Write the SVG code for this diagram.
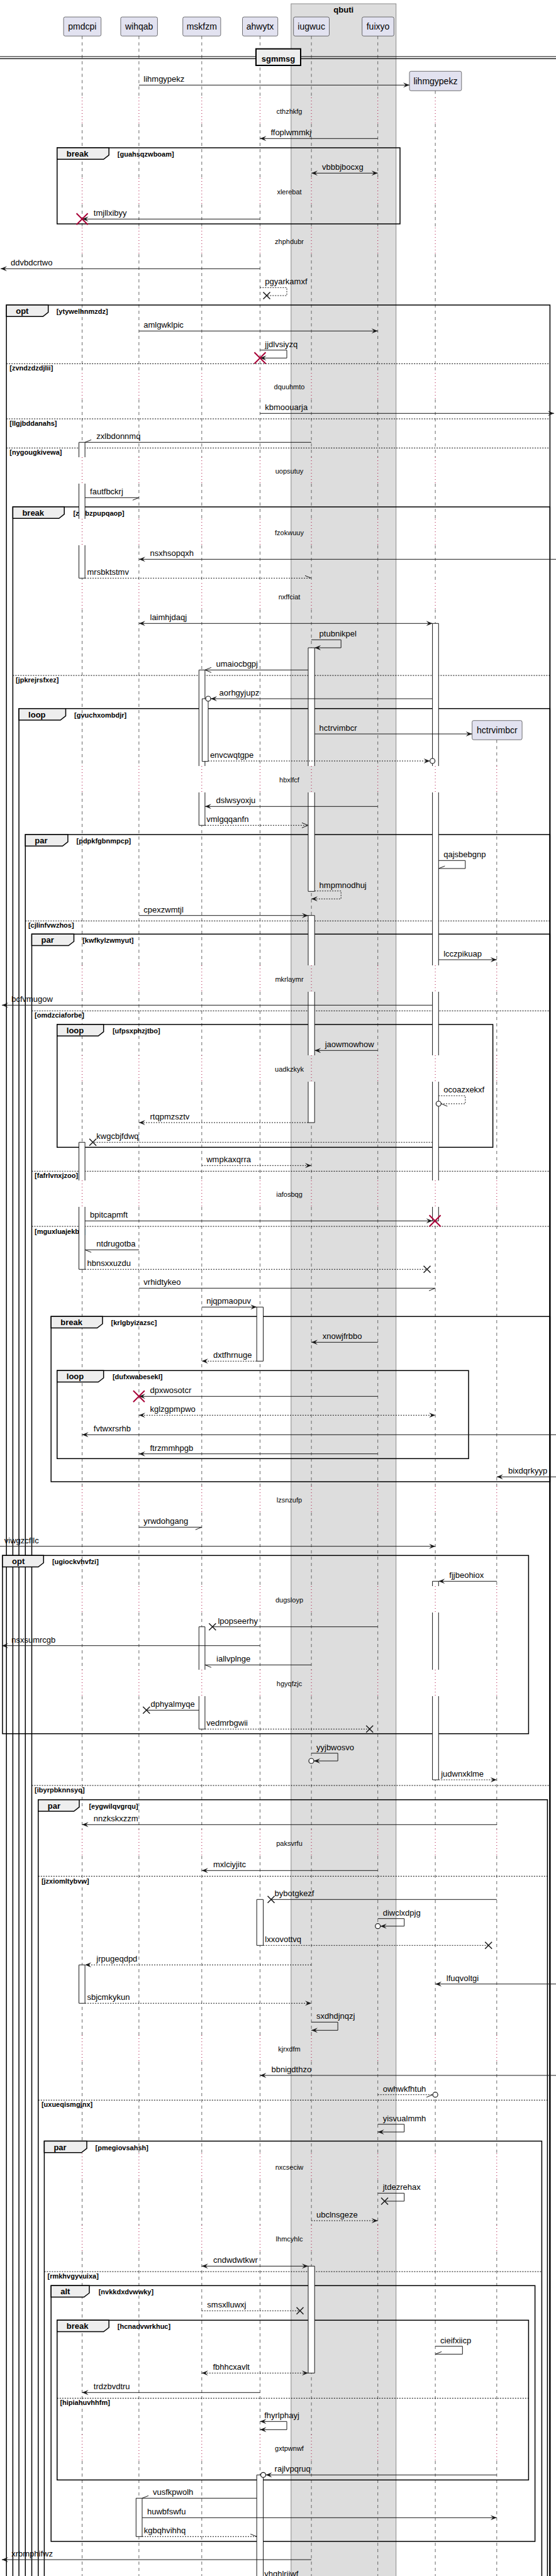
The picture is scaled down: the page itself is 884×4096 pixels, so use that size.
<svg xmlns="http://www.w3.org/2000/svg" width="884" height="4096" viewBox="0 0 884 4096">
<style>
text{font-family:"Liberation Sans",Arial,sans-serif;fill:#000}
.pt{font-size:14px;text-anchor:middle}
.m{font-size:13px}
.d{font-size:11px;text-anchor:middle}
.tb{font-size:13px;font-weight:bold}
.c{font-size:11px;font-weight:bold}
.ll{stroke:#666;stroke-width:1;stroke-dasharray:5,5;fill:none}
.lt{stroke:#A80036;stroke-width:1;stroke-dasharray:1,4;fill:none}
.fr{fill:none;stroke:#000;stroke-width:1.5}
.tab{fill:#EEEEEE;stroke:#000;stroke-width:1.5}
.sep{stroke:#000;stroke-width:1;stroke-dasharray:2,2;fill:none}
.msg{stroke:#181818;stroke-width:1;fill:none}
.dt{stroke-dasharray:2,2}
.ab{fill:#fff;stroke:none}
.al{fill:none;stroke:#181818;stroke-width:1}
.xr{stroke:#A80036;stroke-width:2;fill:none}
.xb{stroke:#181818;stroke-width:1.5;fill:none}
.ci{fill:#fff;stroke:#181818;stroke-width:1.2}
.pb{fill:#E2E2F0;stroke:#181818;stroke-width:0.6}
</style>
<defs>
<marker id="af" viewBox="-1 -1 12 10" refX="10" refY="4" markerWidth="12" markerHeight="10" markerUnits="userSpaceOnUse" orient="auto-start-reverse"><path d="M0,0 L10,4 L0,8 L4,4 Z" fill="#181818" stroke="none"/></marker>
<marker id="ao" viewBox="-1 -1 12 10" refX="10" refY="4" markerWidth="12" markerHeight="10" markerUnits="userSpaceOnUse" orient="auto"><path d="M0,0 L10,4 L0,8" fill="none" stroke="#181818" stroke-width="1"/></marker>
<marker id="hu" viewBox="-1 -1 12 10" refX="10" refY="4" markerWidth="12" markerHeight="10" markerUnits="userSpaceOnUse" orient="auto"><path d="M0,0 L10,4" fill="none" stroke="#181818" stroke-width="1"/></marker>
<marker id="hd" viewBox="-1 -1 12 10" refX="10" refY="4" markerWidth="12" markerHeight="10" markerUnits="userSpaceOnUse" orient="auto"><path d="M0,8 L10,4" fill="none" stroke="#181818" stroke-width="1"/></marker>
<path id="lld" d="M0 57.3V155M0 197V283M0 325V362M0 404V593M0 635V727M0 769V825M0 867V927M0 969V1218M0 1260V1535M0 1577V1678M0 1720V1877M0 1919V2363M0 2405V2522M0 2564V2655M0 2697V2909M0 2951V3236M0 3278V3424M0 3466V3538M0 3580V3871M0 3913V4096"/>
<path id="lld2" d="M0 144.3V155M0 197V283M0 325V362M0 404V593M0 635V727M0 769V825M0 867V927M0 969V1218M0 1260V1535M0 1577V1678M0 1720V1877M0 1919V2363M0 2405V2522M0 2564V2655M0 2697V2909M0 2951V3236M0 3278V3424M0 3466V3538M0 3580V3871M0 3913V4096"/>
<path id="lld3" d="M0 1176.3V1218M0 1260V1535M0 1577V1678M0 1720V1877M0 1919V2363M0 2405V2522M0 2564V2655M0 2697V2909M0 2951V3236M0 3278V3424M0 3466V3538M0 3580V3871M0 3913V4096"/>
<path id="llt" d="M0 155V197M0 283V325M0 362V404M0 593V635M0 727V769M0 825V867M0 927V969M0 1218V1260M0 1535V1577M0 1678V1720M0 1877V1919M0 2363V2405M0 2522V2564M0 2655V2697M0 2909V2951M0 3236V3278M0 3424V3466M0 3538V3580M0 3871V3913"/>
<path id="llt3" d="M0 1218V1260M0 1535V1577M0 1678V1720M0 1877V1919M0 2363V2405M0 2522V2564M0 2655V2697M0 2909V2951M0 3236V3278M0 3424V3466M0 3538V3580M0 3871V3913"/>
</defs>
<rect width="884" height="4096" fill="#fff"/>
<g id="box-qbuti">
<rect x="462.8" y="6" width="166.9" height="4100" fill="#DDDDDD" stroke="#888" stroke-width="1"/>
<text class="tb" x="546.2" y="19.5" text-anchor="middle">qbuti</text>
</g>
<g id="lifelines">
<use href="#lld" x="130.6" class="ll"/><use href="#llt" x="130.6" class="lt"/>
<use href="#lld" x="220.9" class="ll"/><use href="#llt" x="220.9" class="lt"/>
<use href="#lld" x="320.8" class="ll"/><use href="#llt" x="320.8" class="lt"/>
<use href="#lld" x="413.4" class="ll"/><use href="#llt" x="413.4" class="lt"/>
<use href="#lld" x="495.1" class="ll"/><use href="#llt" x="495.1" class="lt"/>
<use href="#lld" x="600.7" class="ll"/><use href="#llt" x="600.7" class="lt"/>
<use href="#lld2" x="692.1" class="ll"/><use href="#llt" x="692.1" class="lt"/>
<use href="#lld3" x="789.8" class="ll"/><use href="#llt3" x="789.8" class="lt"/>
</g>
<g id="divider">
<path d="M0 90H884M0 93.3H884" stroke="#000" stroke-width="1.2"/>
<rect x="407" y="77.7" width="71" height="26.3" fill="#EEEEEE" stroke="#000" stroke-width="2"/>
<text class="tb" x="442.5" y="97.5" text-anchor="middle">sgmmsg</text>
</g>
<g id="frames">
<rect class="fr" x="90.8" y="235" width="545.2" height="121"/>
<polygon class="tab" points="90.8,235 173.2,235 173.2,246.7 164.7,253.3 90.8,253.3"/>
<text class="tb" x="105.8" y="249">break</text><text class="c" x="186.8" y="249">[guahsqzwboam]</text>

<rect class="fr" x="10.2" y="485" width="864.2" height="3615"/>
<polygon class="tab" points="10.2,485 76.7,485 76.7,496.7 68.2,503.3 10.2,503.3"/>
<text class="tb" x="25.2" y="499">opt</text><text class="c" x="89.7" y="499">[ytywelhnmzdz]</text>
<path class="sep" d="M10.2 578.3H874.4M10.2 666H874.4M10.2 712.3H874.4"/>
<text class="c" x="15.3" y="589.3">[zvndzdzdjlii]</text>
<text class="c" x="15.3" y="677">[llgjbddanahs]</text>
<text class="c" x="15.3" y="723.3">[nygougkivewa]</text>

<rect class="fr" x="20.4" y="806" width="854" height="3294"/>
<polygon class="tab" points="20.4,806 102.2,806 102.2,817.7 93.7,824.3 20.4,824.3"/>
<text class="tb" x="35.4" y="820">break</text><text class="c" x="116.4" y="820">[zjnbzpupqaop]</text>
<path class="sep" d="M20.4 1074H874.4"/>
<text class="c" x="25" y="1085">[jpkrejrsfxez]</text>

<rect class="fr" x="30.1" y="1126.7" width="844.3" height="2974"/>
<polygon class="tab" points="30.1,1126.7 104.5,1126.7 104.5,1138.4 96,1145 30.1,1145"/>
<text class="tb" x="45.1" y="1140.7">loop</text><text class="c" x="118.1" y="1140.7">[gvuchxombdjr]</text>

<rect class="fr" x="40.3" y="1327" width="834.1" height="2773"/>
<polygon class="tab" points="40.3,1327 107.9,1327 107.9,1338.7 99.4,1345.3 40.3,1345.3"/>
<text class="tb" x="55.3" y="1341">par</text><text class="c" x="121.5" y="1341">[pdpkfgbnmpcp]</text>
<path class="sep" d="M40.3 1464.3H874.4"/>
<text class="c" x="44.9" y="1475">[cjlinfvwzhos]</text>

<rect class="fr" x="50.5" y="1485.3" width="823.9" height="2615"/>
<polygon class="tab" points="50.5,1485.3 117.5,1485.3 117.5,1497 109,1503.6 50.5,1503.6"/>
<text class="tb" x="65.5" y="1499.3">par</text><text class="c" x="131.2" y="1499.3">[kwfkylzwmyut]</text>
<path class="sep" d="M50.5 1607.3H874.4M50.5 1862.3H874.4M50.5 1950H874.4M50.5 2839H874.4"/>
<text class="c" x="55.1" y="1618.3">[omdzciaforbe]</text>
<text class="c" x="55.1" y="1873.3">[fafrlvnxjzoo]</text>
<text class="c" x="55.1" y="1961.7">[mguxluajekba]</text>
<text class="c" x="55.1" y="2850">[ibyrpbknnsyq]</text>

<rect class="fr" x="90.8" y="1629" width="692.8" height="195.3"/>
<polygon class="tab" points="90.8,1629 164.7,1629 164.7,1640.7 156.2,1647.3 90.8,1647.3"/>
<text class="tb" x="105.8" y="1643">loop</text><text class="c" x="178.9" y="1643">[ufpsxphzjtbo]</text>

<rect class="fr" x="81.2" y="2093.3" width="793.2" height="262.7"/>
<polygon class="tab" points="81.2,2093.3 163,2093.3 163,2105 154.5,2111.6 81.2,2111.6"/>
<text class="tb" x="96.2" y="2107.3">break</text><text class="c" x="176.6" y="2107.3">[krlgbyizazsc]</text>

<rect class="fr" x="90.8" y="2179.3" width="654.2" height="140"/>
<polygon class="tab" points="90.8,2179.3 164.7,2179.3 164.7,2191 156.2,2197.6 90.8,2197.6"/>
<text class="tb" x="105.8" y="2193.3">loop</text><text class="c" x="178.9" y="2193.3">[dufxwabesekl]</text>

<rect class="fr" x="4" y="2473.3" width="836.4" height="283.4"/>
<polygon class="tab" points="4,2473.3 69.3,2473.3 69.3,2485 60.8,2491.6 4,2491.6"/>
<text class="tb" x="19" y="2487.3">opt</text><text class="c" x="82.9" y="2487.3">[ugiockvhvfzi]</text>

<rect class="fr" x="60.8" y="2861.7" width="809.6" height="1240"/>
<polygon class="tab" points="60.8,2861.7 126,2861.7 126,2873.4 117.5,2880 60.8,2880"/>
<text class="tb" x="75.8" y="2875.7">par</text><text class="c" x="141.4" y="2875.7">[eygwilqvgrqu]</text>
<path class="sep" d="M60.8 2983.3H870.4M60.8 3339.3H870.4"/>
<text class="c" x="65.9" y="2995">[jzxiomltybvw]</text>
<text class="c" x="65.9" y="3350">[uxueqismgjnx]</text>

<rect class="fr" x="70.4" y="3404.5" width="791" height="700"/>
<polygon class="tab" points="70.4,3404.5 138,3404.5 138,3416.2 129.5,3422.8 70.4,3422.8"/>
<text class="tb" x="85.4" y="3418.5">par</text><text class="c" x="151.6" y="3418.5">[pmegiovsahsh]</text>
<path class="sep" d="M70.4 3612H861.4"/>
<text class="c" x="75.5" y="3622.7">[rmkhvgyvuixa]</text>

<rect class="fr" x="81.2" y="3634.3" width="769.4" height="406.7"/>
<polygon class="tab" points="81.2,3634.3 142,3634.3 142,3646 133.5,3652.6 81.2,3652.6"/>
<text class="tb" x="96.2" y="3648.3">alt</text><text class="c" x="156.7" y="3648.3">[nvkkdxdvwwky]</text>

<rect class="fr" x="90.8" y="3689.3" width="749.6" height="254"/>
<polygon class="tab" points="90.8,3689.3 173.2,3689.3 173.2,3701 164.7,3707.6 90.8,3707.6"/>
<text class="tb" x="105.8" y="3703.3">break</text><text class="c" x="186.8" y="3703.3">[hcnadvwrkhuc]</text>
<path class="sep" d="M90.8 3813.3H840.4"/>
<text class="c" x="95.4" y="3824">[hipiahuvhhfm]</text>
</g>
<g id="p-pmdcpi"><rect class="pb" x="101.1" y="27" width="59.6" height="30.3" rx="2.5"/><text class="pt" x="130.9" y="47">pmdcpi</text></g>
<g id="p-wihqab"><rect class="pb" x="191.9" y="27" width="58.5" height="30.3" rx="2.5"/><text class="pt" x="221.2" y="47">wihqab</text></g>
<g id="p-mskfzm"><rect class="pb" x="290.7" y="27" width="60.2" height="30.3" rx="2.5"/><text class="pt" x="320.8" y="47">mskfzm</text></g>
<g id="p-ahwytx"><rect class="pb" x="385.5" y="27" width="56.2" height="30.3" rx="2.5"/><text class="pt" x="413.6" y="47">ahwytx</text></g>
<g id="p-iugwuc"><rect class="pb" x="466.7" y="27" width="56.8" height="30.3" rx="2.5"/><text class="pt" x="495.1" y="47">iugwuc</text></g>
<g id="p-fuixyo"><rect class="pb" x="575.7" y="27" width="50.6" height="30.3" rx="2.5"/><text class="pt" x="601" y="47">fuixyo</text></g>
<g id="p-lihmgypekz"><rect class="pb" x="651" y="113.3" width="82.8" height="31" rx="2.5"/><text class="pt" x="692.4" y="133.5">lihmgypekz</text></g>
<g id="p-hctrvimbcr"><rect class="pb" x="750.6" y="1145.7" width="79.5" height="30.6" rx="2.5"/><text class="pt" x="790.3" y="1166">hctrvimbcr</text></g>
<g id="activations">
<rect class="ab" x="125.5" y="703.3" width="9.6" height="23.7"/><rect class="ab" x="125.5" y="769" width="9.6" height="56"/><rect class="ab" x="125.5" y="867" width="9.6" height="52.3"/>
<path class="al" d="M125.5 727V703.3H135.1V727M125.5 769V825M135.1 769V825M125.5 867V919.3H135.1V867"/>
<rect class="ab" x="687.6" y="991.3" width="9.7" height="226.7"/><rect class="ab" x="687.6" y="1260" width="9.7" height="275"/><rect class="ab" x="687.6" y="1577" width="9.7" height="101"/><rect class="ab" x="687.6" y="1720" width="9.7" height="157"/><rect class="ab" x="687.6" y="1919" width="9.7" height="22.3"/>
<path class="al" d="M687.6 1218V991.3H697.3V1218M687.6 1260V1535M697.3 1260V1535M687.6 1577V1678M697.3 1577V1678M687.6 1720V1877M697.3 1720V1877M687.6 1919V1941.3H697.3V1919"/>
<rect class="ab" x="490" y="1030" width="10.2" height="188"/><rect class="ab" x="490" y="1260" width="10.2" height="157.3"/>
<path class="al" d="M490 1218V1030H500.2V1218M490 1260V1417.3H500.2V1260"/>
<rect class="ab" x="316.3" y="1065.3" width="9.6" height="152.7"/><rect class="ab" x="316.3" y="1260" width="9.6" height="52.3"/>
<path class="al" d="M316.3 1218V1065.3H325.9V1218M316.3 1260V1312.3H325.9V1260"/>
<rect class="ab" x="321.4" y="1111" width="9.6" height="99.7"/>
<path class="al" d="M321.4 1111H331V1210.7H321.4Z"/>
<rect class="ab" x="490" y="1455.7" width="10.2" height="79.3"/><rect class="ab" x="490" y="1577" width="10.2" height="101"/><rect class="ab" x="490" y="1720" width="10.2" height="65"/>
<path class="al" d="M490 1535V1455.7H500.2V1535M490 1577V1678M500.2 1577V1678M490 1720V1785H500.2V1720"/>
<rect class="ab" x="125.5" y="1816.3" width="9.6" height="60.7"/><rect class="ab" x="125.5" y="1919" width="9.6" height="99.3"/>
<path class="al" d="M125.5 1877V1816.3H135.1V1877M125.5 1919V2018.3H135.1V1919"/>
<rect class="ab" x="408.2" y="2078.3" width="10.3" height="86"/>
<path class="al" d="M408.2 2078.3H418.5V2164.3H408.2Z"/>
<rect class="ab" x="687.6" y="2514.3" width="9.7" height="7.7"/><rect class="ab" x="687.6" y="2564" width="9.7" height="91"/><rect class="ab" x="687.6" y="2697" width="9.7" height="133"/>
<path class="al" d="M687.6 2522V2514.3H697.3V2522M687.6 2564V2655M697.3 2564V2655M687.6 2697V2830H697.3V2697"/>
<rect class="ab" x="316.3" y="2586.7" width="9.6" height="68.3"/><rect class="ab" x="316.3" y="2697" width="9.6" height="52.3"/>
<path class="al" d="M316.3 2655V2586.7H325.9V2655M316.3 2697V2749.3H325.9V2697"/>
<rect class="ab" x="408.2" y="3020.3" width="10.3" height="73"/>
<path class="al" d="M408.2 3020.3H418.5V3093.3H408.2Z"/>
<rect class="ab" x="125.5" y="3124.3" width="9.6" height="61"/>
<path class="al" d="M125.5 3124.3H135.1V3185.3H125.5Z"/>
<rect class="ab" x="490" y="3603.3" width="10.2" height="170"/>
<path class="al" d="M490 3603.3H500.2V3773.3H490Z"/>
<rect class="ab" x="408.2" y="3935.3" width="10.3" height="170"/>
<path class="al" d="M408.2 4105V3935.3H418.5V4105"/>
<rect class="ab" x="216.3" y="3972.3" width="9.7" height="61"/>
<path class="al" d="M216.3 3972.3H226V4033.3H216.3Z"/>
</g>
<g id="connectors">
<path class="msg" d="M220.9 135.3H651" marker-end="url(#af)"/>
<path class="msg" d="M600.7 220.3H413.4" marker-end="url(#af)"/>
<path class="msg" d="M495 275.3H600.7" marker-start="url(#af)" marker-end="url(#af)"/>
<path class="msg" d="M413.4 348.3H130.6" marker-end="url(#af)"/>
<path class="msg" d="M413.4 427.3H1" marker-end="url(#af)"/>
<path class="msg dt" d="M413.4 457.3H456V470H424"/>
<path class="msg" d="M220.9 526.3H600.7" marker-end="url(#af)"/>
<path class="msg" d="M413.4 556.7H456V569.3H413.4" marker-end="url(#af)"/>
<path class="msg" d="M413.4 657.3H881" marker-end="url(#af)"/>
<path class="msg" d="M495 703.3H135.1" marker-end="url(#hd)"/>
<path class="msg" d="M135.1 791.3H220.9" marker-end="url(#hd)"/>
<path class="msg" d="M884 889.3H220.9" marker-end="url(#af)"/>
<path class="msg dt" d="M135.1 919.3H495" marker-end="url(#hu)"/>
<path class="msg" d="M220.9 991.3H687.6" marker-start="url(#af)" marker-end="url(#af)"/>
<path class="msg" d="M495 1017.3H542.2V1030H500.2" marker-end="url(#af)"/>
<path class="msg" d="M490 1065.3H325.9" marker-end="url(#ao)"/>
<path class="msg" d="M687.6 1111H335" marker-end="url(#af)"/>
<path class="msg" d="M500.2 1167H750.6" marker-end="url(#af)"/>
<path class="msg dt" d="M331 1210H683.6" marker-end="url(#af)"/>
<path class="msg" d="M600.7 1282.3H325.9" marker-end="url(#af)"/>
<path class="msg dt" d="M325.9 1312.3H490" marker-end="url(#ao)"/>
<path class="msg" d="M697.3 1368.3H739.8V1381H697.3" marker-end="url(#hd)"/>
<path class="msg dt" d="M500.2 1416.7H542.2V1429.3H495" marker-end="url(#af)"/>
<path class="msg" d="M220.9 1455.7H490" marker-end="url(#af)"/>
<path class="msg" d="M697.3 1526H789.8" marker-end="url(#af)"/>
<path class="msg" d="M687.6 1598.3H3" marker-end="url(#af)"/>
<path class="msg" d="M600.7 1670.3H500.2" marker-end="url(#af)"/>
<path class="msg dt" d="M697.3 1742.3H739.8V1755H701.3" marker-end="url(#hu)"/>
<path class="msg dt" d="M490 1785H220.9" marker-end="url(#af)"/>
<path class="msg dt" d="M687.6 1816.3H147.6"/>
<path class="msg dt" d="M320.8 1853.3H495" marker-end="url(#af)"/>
<path class="msg" d="M135.1 1941.3H687.6" marker-end="url(#af)"/>
<path class="msg" d="M220.9 1987.3H135.1" marker-end="url(#hu)"/>
<path class="msg dt" d="M135.1 2018.3H679"/>
<path class="msg" d="M220.9 2048.3H692.1" marker-end="url(#hd)"/>
<path class="msg" d="M320.8 2078.3H408.2" marker-end="url(#af)"/>
<path class="msg" d="M600.7 2134.3H495" marker-end="url(#af)"/>
<path class="msg dt" d="M408.2 2164.3H320.8" marker-end="url(#af)"/>
<path class="msg" d="M600.7 2220.3H220.9" marker-end="url(#af)"/>
<path class="msg dt" d="M220.9 2250.3H692.1" marker-start="url(#af)" marker-end="url(#af)"/>
<path class="msg" d="M884 2281.3H130.6" marker-end="url(#af)"/>
<path class="msg" d="M600.7 2311.7H220.9" marker-end="url(#af)"/>
<path class="msg" d="M884 2348.3H789.8" marker-end="url(#af)"/>
<path class="msg" d="M220.9 2428.3H320.8" marker-end="url(#hd)"/>
<path class="msg" d="M0 2458.7H692.1" marker-end="url(#af)"/>
<path class="msg" d="M789.8 2514.3H697.3" marker-end="url(#af)"/>
<path class="msg" d="M600.7 2586.7H337.8"/>
<path class="msg" d="M413.4 2616.7H3" marker-end="url(#af)"/>
<path class="msg" d="M495 2647.3H325.9" marker-end="url(#hu)"/>
<path class="msg" d="M316.3 2719.3H232.8"/>
<path class="msg dt" d="M325.9 2749.3H587.7"/>
<path class="msg" d="M495 2787.7H537.1V2800H499" marker-end="url(#af)"/>
<path class="msg dt" d="M697.3 2830H789.8" marker-end="url(#af)"/>
<path class="msg" d="M789.8 2901.3H130.6" marker-end="url(#af)"/>
<path class="msg" d="M600.7 2974.3H320.8" marker-end="url(#af)"/>
<path class="msg" d="M789.8 3020.3H431"/>
<path class="msg" d="M600.7 3050.7H642.7V3062.7H604.7" marker-end="url(#af)"/>
<path class="msg dt" d="M418.5 3093.3H776.7"/>
<path class="msg dt" d="M495 3124.3H135.1" marker-end="url(#af)"/>
<path class="msg" d="M884 3154.7H692.1" marker-end="url(#af)"/>
<path class="msg dt" d="M135.1 3185.3H495" marker-end="url(#af)"/>
<path class="msg" d="M495 3215.3H537.1V3228.3H495" marker-end="url(#af)"/>
<path class="msg" d="M884 3300H413.4" marker-end="url(#af)"/>
<path class="msg dt" d="M600.7 3330.7H688.1" marker-end="url(#hd)"/>
<path class="msg" d="M600.7 3377.7H642.7V3390H600.7" marker-end="url(#af)"/>
<path class="msg" d="M600.7 3487.3H642.7V3500H611.5"/>
<path class="msg dt" d="M495 3531H600.7" marker-end="url(#af)"/>
<path class="msg" d="M320.8 3603.3H490" marker-start="url(#af)" marker-end="url(#af)"/>
<path class="msg dt" d="M320.8 3674.3H477"/>
<path class="msg" d="M692.1 3730.7H735.3V3743.3H692.1" marker-end="url(#hd)"/>
<path class="msg dt" d="M320.8 3773.3H490" marker-start="url(#af)" marker-end="url(#af)"/>
<path class="msg" d="M413.4 3804.3H130.6" marker-end="url(#af)"/>
<path class="msg" d="M413.4 3850.3H456V3863.3H413.4" marker-start="url(#af)" marker-end="url(#af)"/>
<path class="msg" d="M789.8 3935.3H422.5" marker-end="url(#af)"/>
<path class="msg" d="M408.2 3972.3H226" marker-end="url(#hd)"/>
<path class="msg" d="M226 4003.3H789.8" marker-end="url(#af)"/>
<path class="msg dt" d="M226 4033.3H408.2" marker-end="url(#hu)"/>
<path class="msg" d="M495 4070H3" marker-end="url(#af)"/>
<circle class="ci" cx="331" cy="1111" r="4"/>
<circle class="ci" cx="687.6" cy="1210" r="4"/>
<circle class="ci" cx="697.3" cy="1755" r="4"/>
<circle class="ci" cx="495" cy="2800" r="4"/>
<circle class="ci" cx="600.7" cy="3062.7" r="4"/>
<circle class="ci" cx="692.1" cy="3330.7" r="4"/>
<circle class="ci" cx="418.5" cy="3935.3" r="4"/>
<path class="xr" d="M121.6 339.3L139.6 357.3M139.6 339.3L121.6 357.3"/>
<path class="xr" d="M404.4 560.3L422.4 578.3M422.4 560.3L404.4 578.3"/>
<path class="xr" d="M682.6 1932.3L700.6 1950.3M700.6 1932.3L682.6 1950.3"/>
<path class="xr" d="M211.9 2211.3L229.9 2229.3M229.9 2211.3L211.9 2229.3"/>
<path class="xb" d="M418.5 464.5L429.5 475.5M429.5 464.5L418.5 475.5"/>
<path class="xb" d="M142.1 1810.8L153.1 1821.8M153.1 1810.8L142.1 1821.8"/>
<path class="xb" d="M673.5 2012.8L684.5 2023.8M684.5 2012.8L673.5 2023.8"/>
<path class="xb" d="M332.3 2581.2L343.3 2592.2M343.3 2581.2L332.3 2592.2"/>
<path class="xb" d="M227.3 2713.8L238.3 2724.8M238.3 2713.8L227.3 2724.8"/>
<path class="xb" d="M582.2 2743.8L593.2 2754.8M593.2 2743.8L582.2 2754.8"/>
<path class="xb" d="M425.5 3014.8L436.5 3025.8M436.5 3014.8L425.5 3025.8"/>
<path class="xb" d="M771.2 3087.8L782.2 3098.8M782.2 3087.8L771.2 3098.8"/>
<path class="xb" d="M606 3494.5L617 3505.5M617 3494.5L606 3505.5"/>
<path class="xb" d="M471.5 3668.8L482.5 3679.8M482.5 3668.8L471.5 3679.8"/>
</g>
<g id="delays">
<text class="d" x="460" y="180.7">cthzhkfg</text>
<text class="d" x="460" y="309">xlerebat</text>
<text class="d" x="460" y="388.3">zhphdubr</text>
<text class="d" x="460" y="619.3">dquuhmto</text>
<text class="d" x="460" y="753.3">uopsutuy</text>
<text class="d" x="460" y="851">fzokwuuy</text>
<text class="d" x="460" y="953.3">nxffciat</text>
<text class="d" x="460" y="1244">hbxlfcf</text>
<text class="d" x="460" y="1560.7">mkrlaymr</text>
<text class="d" x="460" y="1704">uadkzkyk</text>
<text class="d" x="460" y="1903.3">iafosbqg</text>
<text class="d" x="460" y="2389">lzsnzufp</text>
<text class="d" x="460" y="2548.3">dugsloyp</text>
<text class="d" x="460" y="2681.3">hgyqfzjc</text>
<text class="d" x="460" y="2935.3">paksvrfu</text>
<text class="d" x="460" y="3262.3">kjrxdfm</text>
<text class="d" x="460" y="3449.7">nxcseciw</text>
<text class="d" x="460" y="3564.3">lhmcyhlc</text>
<text class="d" x="460" y="3897.3">gxtpwnwf</text>
</g>
<g id="labels">
<text class="m" x="228.3" y="130.3">lihmgypekz</text>
<text class="m" x="430.4" y="215.3">ffoplwmmkj</text>
<text class="m" x="512" y="270.3">vbbbjbocxg</text>
<text class="m" x="148.8" y="343.3">tmjllxibyy</text>
<text class="m" x="17" y="422.3">ddvbdcrtwo</text>
<text class="m" x="421.3" y="452.3">pgyarkamxf</text>
<text class="m" x="228.3" y="521.3">amlgwklpic</text>
<text class="m" x="421.3" y="551.7">jjdlvsiyzq</text>
<text class="m" x="421.3" y="652.3">kbmoouarja</text>
<text class="m" x="153.3" y="698.3">zxlbdonnmq</text>
<text class="m" x="143.1" y="786.3">fautfbckrj</text>
<text class="m" x="238.5" y="884.3">nsxhsopqxh</text>
<text class="m" x="138.5" y="914.3">mrsbktstmv</text>
<text class="m" x="238.5" y="986.3">laimhjdaqj</text>
<text class="m" x="507.6" y="1012.3">ptubnikpel</text>
<text class="m" x="343.5" y="1060.3">umaiocbgpj</text>
<text class="m" x="348.6" y="1106">aorhgyjupz</text>
<text class="m" x="507.6" y="1162">hctrvimbcr</text>
<text class="m" x="333.9" y="1205">envcwqtgpe</text>
<text class="m" x="343.5" y="1277.3">dslwsyoxju</text>
<text class="m" x="328.2" y="1307.3">vmlgqqanfn</text>
<text class="m" x="705.2" y="1363.3">qajsbebgnp</text>
<text class="m" x="507.6" y="1411.7">hmpmnodhuj</text>
<text class="m" x="228.3" y="1450.7">cpexzwmtjl</text>
<text class="m" x="705.2" y="1521">lcczpikuap</text>
<text class="m" x="18.2" y="1593.3">bcfvmugow</text>
<text class="m" x="516.7" y="1665.3">jaowmowhow</text>
<text class="m" x="705.2" y="1737.3">ocoazxekxf</text>
<text class="m" x="238.5" y="1780">rtqpmzsztv</text>
<text class="m" x="153.3" y="1811.3">kwgcbjfdwq</text>
<text class="m" x="328.2" y="1848.3">wmpkaxqrra</text>
<text class="m" x="143.1" y="1936.3">bpitcapmft</text>
<text class="m" x="153.3" y="1982.3">ntdrugotba</text>
<text class="m" x="138.5" y="2013.3">hbnsxxuzdu</text>
<text class="m" x="228.3" y="2043.3">vrhidtykeo</text>
<text class="m" x="328.2" y="2073.3">njqpmaopuv</text>
<text class="m" x="512.7" y="2129.3">xnowjfrbbo</text>
<text class="m" x="339" y="2159.3">dxtfhrnuge</text>
<text class="m" x="238.5" y="2215.3">dpxwosotcr</text>
<text class="m" x="238.5" y="2245.3">kglzgpmpwo</text>
<text class="m" x="148.8" y="2276.3">fvtwxrsrhb</text>
<text class="m" x="238.5" y="2306.7">ftrzmmhpgb</text>
<text class="m" x="808" y="2343.3">bixdqrkyyp</text>
<text class="m" x="228.3" y="2423.3">yrwdohgang</text>
<text class="m" x="6.8" y="2453.7">viwgzcfllc</text>
<text class="m" x="714.3" y="2509.3">fjjbeohiox</text>
<text class="m" x="346.4" y="2581.7">lpopseerhy</text>
<text class="m" x="18.2" y="2611.7">nsxsumrcgb</text>
<text class="m" x="344.1" y="2642.3">iallvplnge</text>
<text class="m" x="239.6" y="2714.3">dphyalmyqe</text>
<text class="m" x="328.2" y="2744.3">vedmrbgwii</text>
<text class="m" x="503" y="2782.7">yyjbwosvo</text>
<text class="m" x="701.2" y="2825">judwnxklme</text>
<text class="m" x="148.8" y="2896.3">nnzkskxzzm</text>
<text class="m" x="339" y="2969.3">mxlciyjitc</text>
<text class="m" x="436.6" y="3015.3">bybotgkezf</text>
<text class="m" x="608.7" y="3045.7">diwclxdpjg</text>
<text class="m" x="421.3" y="3088.3">lxxovottvq</text>
<text class="m" x="153.3" y="3119.3">jrpugeqdpd</text>
<text class="m" x="709.8" y="3149.7">lfuqvoltgi</text>
<text class="m" x="138.5" y="3180.3">sbjcmkykun</text>
<text class="m" x="503" y="3210.3">sxdhdjnqzj</text>
<text class="m" x="431.5" y="3295">bbnigdthzo</text>
<text class="m" x="608.7" y="3325.7">owhwkfhtuh</text>
<text class="m" x="608.7" y="3372.7">yisvualmmh</text>
<text class="m" x="608.7" y="3482.3">jtdezrehax</text>
<text class="m" x="503" y="3526">ubclnsgeze</text>
<text class="m" x="339" y="3598.3">cndwdwtkwr</text>
<text class="m" x="329.3" y="3669.3">smsxlluwxj</text>
<text class="m" x="700.1" y="3725.7">cieifxiicp</text>
<text class="m" x="338.4" y="3768.3">fbhhcxavlt</text>
<text class="m" x="148.8" y="3799.3">trdzbvdtru</text>
<text class="m" x="420.2" y="3845.3">fhyrlphayj</text>
<text class="m" x="436.6" y="3930.3">rajlvpqruq</text>
<text class="m" x="243" y="3967.3">vusfkpwolh</text>
<text class="m" x="234" y="3998.3">huwbfswfu</text>
<text class="m" x="228.8" y="4028.3">kgbqhvihhq</text>
<text class="m" x="18.2" y="4065">xrbmphifwz</text>
<text class="m" x="420.2" y="4097">yhghlrijwf</text>
</g>
</svg>
